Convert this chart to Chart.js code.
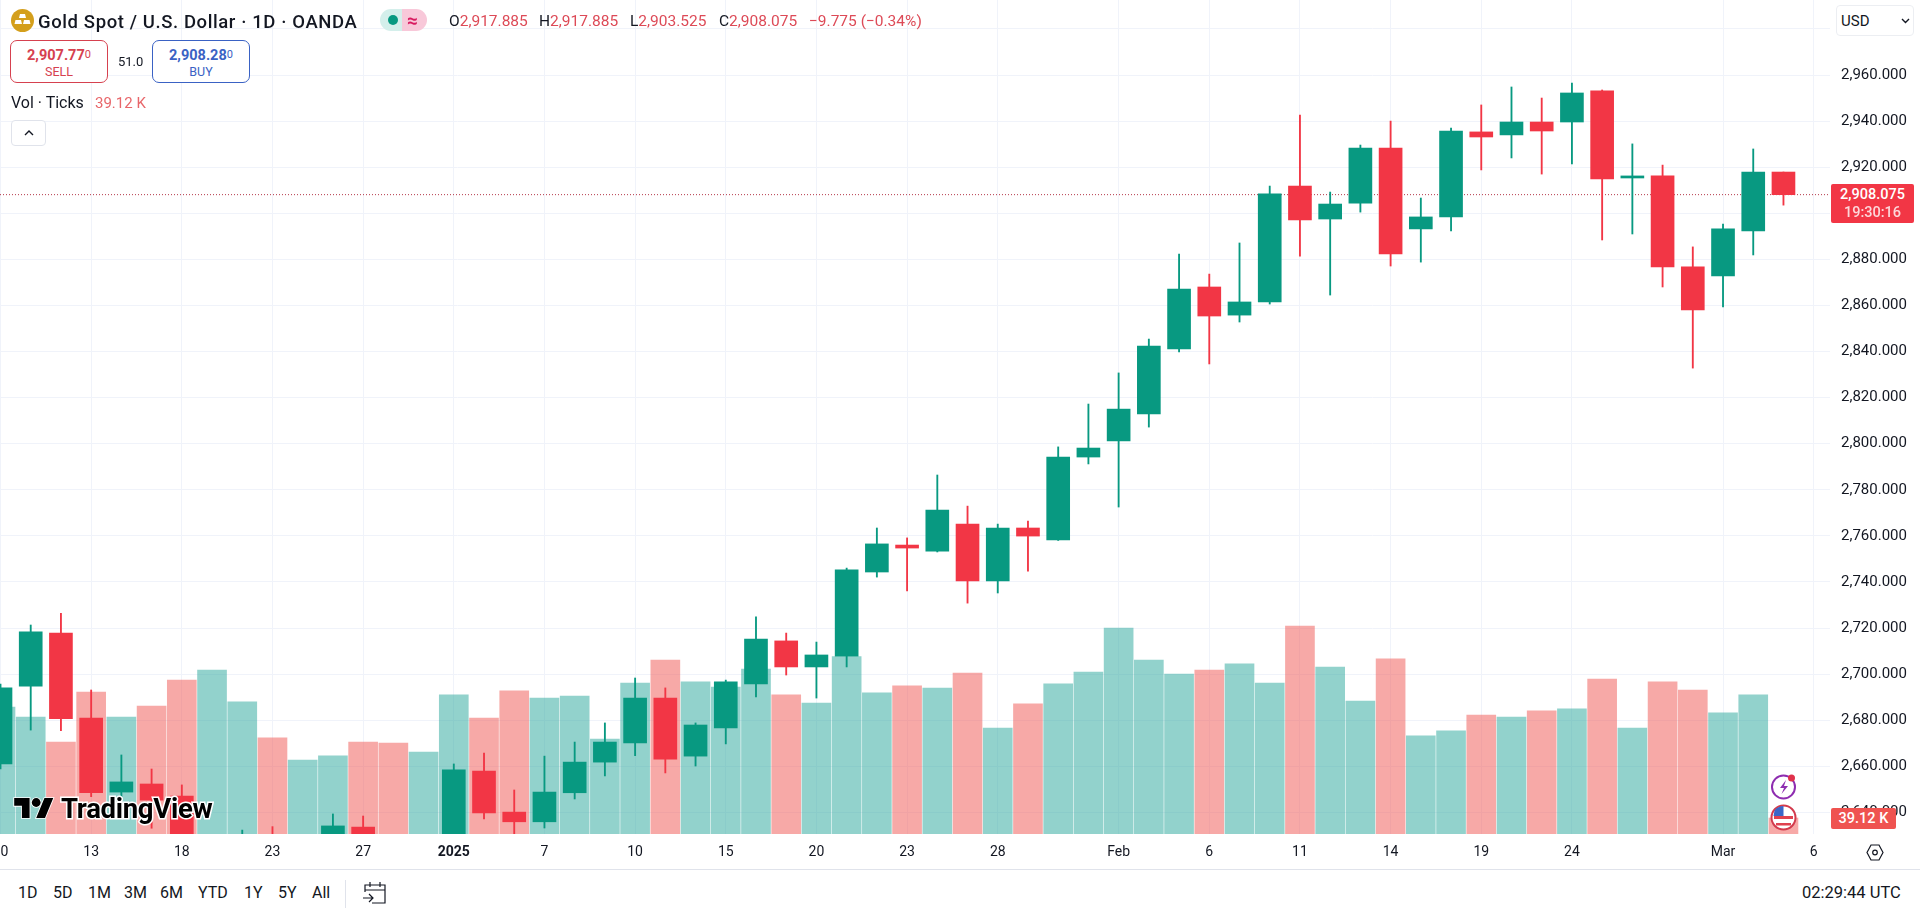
<!DOCTYPE html>
<html lang="en">
<head>
<meta charset="UTF-8" />
<title>Gold Spot / U.S. Dollar</title>
<script src="https://cdn.jsdelivr.net/npm/chart.js"></script>
<style>
  html, body { margin: 0; padding: 0; background: #fff; overflow: hidden; }
  body { width: 1920px; height: 912px; position: relative; font-family: Roboto, sans-serif; color: #131722; }
  #chart { position: absolute; left: 0; top: 0; }
  .abs { position: absolute; white-space: nowrap; line-height: 1; }
  .mid { transform: translateY(-50%); }
  .red { color: #dd4a57; }
  .tab { font-size: 16px; top: 893px; }
  .ohlc { font-size: 15.5px; top: 22px; }
  .trade { position: absolute; top: 40px; height: 43px; box-sizing: border-box; border: 1px solid; border-radius: 7px; text-align: center; background: #fff; }
  .trade b { display: block; font-size: 14.5px; font-weight: 700; margin-top: 6px; line-height: 15px; }
  .trade b small { font-size: 11px; font-weight: 400; vertical-align: 2px; }
  .trade span { display: block; font-size: 12.5px; margin-top: 2px; line-height: 14px; }
  #priceTag { position: absolute; left: 1831px; top: 184px; width: 83px; height: 39px; background: #f23645; border-radius: 2px; color: #fff; text-align: center; font-size: 14.5px; font-weight: 500; }
  #priceTag div { height: 18px; line-height: 18px; }
  #volTag { position: absolute; left: 1831px; top: 808px; width: 65px; height: 21px; line-height: 21px; background: #ef5350; border-radius: 2px; color: #fff; text-align: center; font-size: 14.5px; font-weight: 500; }
</style>
</head>
<body>
<canvas id="chart" width="1920" height="869"></canvas>

<svg class="abs" style="left:11px;top:9px" width="23" height="23" viewBox="0 0 23 23">
  <circle cx="11.5" cy="11.5" r="11.5" fill="#d49f1c"/>
  <path d="M9 5h5l1 4H8zM4.5 11h5.5l1 4H3.5zM13 11h5.5l1 4H12z" fill="#fff"/>
</svg>
<div class="abs mid" id="title" style="left:38px;top:22px;font-size:18.5px;font-weight:500;letter-spacing:.6px">Gold Spot / U.S. Dollar · 1D · OANDA</div>

<div class="abs" style="left:380px;top:9px;width:22px;height:22px;background:#d4efeb;border-radius:11px 0 0 11px"></div>
<div class="abs" style="left:402px;top:9px;width:25px;height:22px;background:#f8c8d9;border-radius:0 11px 11px 0"></div>
<div class="abs" style="left:388px;top:15px;width:10px;height:10px;background:#089981;border-radius:50%"></div>
<div class="abs mid" style="left:407px;top:20px;font-size:19px;font-weight:700;color:#d81b60">≈</div>

<div class="abs mid ohlc" style="left:449px">O<span class="red">2,917.885</span></div>
<div class="abs mid ohlc" style="left:539px">H<span class="red">2,917.885</span></div>
<div class="abs mid ohlc" style="left:630px">L<span class="red">2,903.525</span></div>
<div class="abs mid ohlc" style="left:719px">C<span class="red">2,908.075</span></div>
<div class="abs mid ohlc red" style="left:809px">−9.775 (−0.34%)</div>

<div class="trade" style="left:10px;width:98px;border-color:#d6414f;color:#d6414f"><b>2,907.77<small>0</small></b><span>SELL</span></div>
<div class="abs mid" style="left:118px;top:61px;font-size:13px">51.0</div>
<div class="trade" style="left:152px;width:98px;border-color:#3a62c4;color:#3a62c4"><b>2,908.28<small>0</small></b><span>BUY</span></div>

<div class="abs mid" style="left:11px;top:103px;font-size:16px">Vol · Ticks</div>
<div class="abs mid" style="left:95px;top:103px;font-size:15px;color:#e8666a">39.12 K</div>
<div class="abs" style="left:11px;top:120px;width:35px;height:26px;box-sizing:border-box;border:1px solid #e0e3eb;border-radius:4px;background:#fff">
  <svg style="position:absolute;left:12px;top:8px" width="10" height="8" viewBox="0 0 10 8"><path d="M1 6l4-4 4 4" fill="none" stroke="#131722" stroke-width="1.4"/></svg>
</div>

<div class="abs" style="left:1836px;top:5px;width:78px;height:31px;box-sizing:border-box;border:1px solid #eceef2;border-radius:4px;background:#fff"></div>
<div class="abs mid" style="left:1841px;top:21px;font-size:15px">USD</div>
<svg class="abs" style="left:1901px;top:18px" width="9" height="6" viewBox="0 0 9 6"><path d="M1 1l3.5 3.5L8 1" fill="none" stroke="#131722" stroke-width="1.4"/></svg>

<div id="priceTag"><div style="margin-top:2px">2,908.075</div><div style="opacity:.8">19:30:16</div></div>

<svg class="abs" style="left:14px;top:797px;overflow:visible" width="40" height="22" viewBox="0 0 36 20">
  <g transform="translate(0,-3)" stroke="#fff" stroke-width="1.6" paint-order="stroke" fill="#000">
    <path d="M14 22H7V11H0V4h14v18zM28 22h-8l7.5-18h8L28 22z"/><circle cx="20" cy="8" r="4"/>
  </g>
</svg>
<div class="abs mid" id="tvName" style="left:61px;top:809px;font-size:27.5px;font-weight:700;letter-spacing:-.3px;color:#000;paint-order:stroke;-webkit-text-stroke:3px #fff">TradingView</div>

<svg class="abs" style="left:1770px;top:773px" width="27" height="27" viewBox="0 0 27 27">
  <circle cx="13.5" cy="14" r="11.5" fill="#fff" stroke="#8e2db0" stroke-width="2"/>
  <path d="M16 7l-6 8h4l-2.5 6 6.5-8h-4z" fill="#8e2db0"/>
  <circle cx="21.5" cy="5" r="3.5" fill="#e0314b"/>
</svg>
<svg class="abs" style="left:1770px;top:804px" width="27" height="27" viewBox="0 0 27 27">
  <circle cx="13.5" cy="13.5" r="12" fill="#fff" stroke="#d33a4c" stroke-width="2"/>
  <path d="M4 12h19v3H4zM6 19h15v2.5H6z" fill="#e0414f"/>
  <path d="M4.5 6.5a11 11 0 0 1 9-4.5v10h-10z" fill="#3a66c8"/>
</svg>
<div id="volTag">39.12 K</div>

<svg class="abs" style="left:1866px;top:844px" width="18" height="17" viewBox="0 0 18 17">
  <path d="M5 1h8l4 7.5L13 16H5L1 8.5z" fill="none" stroke="#131722" stroke-width="1.2"/>
  <circle cx="9" cy="8.5" r="2.3" fill="none" stroke="#131722" stroke-width="1.2"/>
</svg>

<div class="abs" style="left:0;top:869px;width:1920px;height:1px;background:#e0e3eb"></div>
<div class="abs tab mid" style="left:18px">1D</div>
<div class="abs tab mid" style="left:53px">5D</div>
<div class="abs tab mid" style="left:88px">1M</div>
<div class="abs tab mid" style="left:124px">3M</div>
<div class="abs tab mid" style="left:160px">6M</div>
<div class="abs tab mid" style="left:198px">YTD</div>
<div class="abs tab mid" style="left:244px">1Y</div>
<div class="abs tab mid" style="left:278px">5Y</div>
<div class="abs tab mid" style="left:312px">All</div>
<div class="abs" style="left:345px;top:880px;width:1px;height:28px;background:#e0e3eb"></div>
<svg class="abs" style="left:362px;top:881px" width="25" height="24" viewBox="0 0 25 24">
  <path d="M3 11V4h20v18H10M3 9h20M8 1v5M18 1v5M1 17h10M7 13l4 4-4 4" fill="none" stroke="#131722" stroke-width="1.2"/>
</svg>
<div class="abs tab mid" style="left:1802px;font-size:16.5px">02:29:44 UTC</div>

<script>
  const opens = [2661.0, 2694.8, 2717.8, 2680.9, 2648.8, 2652.3, 2647.1, 2612.0, 2615.0, 2626.0,
    2620.0, 2624.0, 2633.6, 2626.0, 2618.0, 2625.0, 2657.9, 2640.1, 2635.9, 2648.5,
    2661.8, 2670.1, 2689.6, 2664.4, 2676.6, 2695.7, 2714.4, 2703.1, 2707.8, 2744.3,
    2756.0, 2753.4, 2765.1, 2740.4, 2763.4, 2758.2, 2794.2, 2801.2, 2812.9, 2841.1,
    2868.0, 2855.8, 2861.5, 2911.8, 2897.5, 2904.4, 2928.3, 2893.2, 2898.4, 2935.3,
    2934.0, 2939.6, 2939.6, 2953.1, 2915.3, 2916.2, 2876.7, 2872.8, 2892.3, 2917.885];
  const highs = [2695.7, 2721.3, 2726.4, 2693.1, 2664.9, 2658.8, 2651.9, 2628.0, 2632.3, 2633.8,
    2629.0, 2639.3, 2638.4, 2630.0, 2629.0, 2661.0, 2665.7, 2649.7, 2664.4, 2670.5,
    2678.8, 2698.3, 2694.0, 2678.8, 2697.4, 2724.8, 2717.8, 2713.9, 2746.0, 2763.4,
    2759.1, 2786.4, 2772.9, 2765.1, 2766.4, 2798.6, 2817.2, 2830.7, 2845.4, 2882.3,
    2873.6, 2887.1, 2911.8, 2942.6, 2909.2, 2929.6, 2940.0, 2906.6, 2937.0, 2947.0,
    2954.8, 2950.0, 2956.5, 2953.5, 2930.1, 2920.9, 2885.4, 2895.3, 2927.9, 2917.885];
  const lows = [2658.8, 2675.7, 2675.4, 2646.8, 2646.8, 2633.1, 2620.0, 2608.0, 2610.0, 2612.0,
    2616.0, 2620.0, 2618.0, 2612.0, 2612.0, 2620.0, 2637.1, 2629.8, 2633.2, 2645.8,
    2655.8, 2664.6, 2657.1, 2660.1, 2669.7, 2690.1, 2699.6, 2689.6, 2703.1, 2742.1,
    2736.1, 2753.0, 2730.8, 2735.2, 2744.7, 2758.0, 2791.2, 2772.5, 2807.2, 2839.8,
    2834.6, 2852.8, 2860.6, 2881.4, 2864.5, 2900.5, 2877.1, 2878.8, 2892.3, 2918.8,
    2924.0, 2917.0, 2921.4, 2888.4, 2891.0, 2868.0, 2832.8, 2859.3, 2881.9, 2903.525];
  const closes = [2694.0, 2718.3, 2680.6, 2648.5, 2653.2, 2645.3, 2625.0, 2622.0, 2625.0, 2618.0,
    2624.0, 2634.1, 2622.0, 2618.0, 2626.0, 2658.4, 2639.8, 2635.9, 2648.8, 2661.8,
    2670.5, 2689.6, 2663.1, 2677.9, 2696.6, 2715.2, 2703.1, 2708.3, 2745.2, 2756.5,
    2754.7, 2771.2, 2740.4, 2763.4, 2759.9, 2794.2, 2798.1, 2815.0, 2842.4, 2867.1,
    2855.4, 2861.5, 2908.4, 2897.1, 2904.0, 2928.3, 2882.3, 2898.4, 2935.7, 2933.1,
    2939.6, 2935.7, 2952.2, 2914.9, 2916.2, 2876.7, 2858.0, 2893.2, 2917.9, 2908.075];
  // ticks, in thousands
  const volumes = [310.5, 286, 225, 347, 286, 313, 376.5, 401, 323, 235,
    181, 191, 225, 222.5, 200.5, 340, 283.6, 350, 332.5, 337,
    232, 369, 425, 372, 359, 403, 340, 320, 433.5, 345,
    362, 357, 393.6, 259, 318, 367, 396, 503.7, 425, 391,
    401, 416, 369, 508.6, 408, 325, 428, 240, 252, 291,
    286, 301, 306, 379, 259, 372, 352, 296, 340, 39.12];

  const xTickIdx = [0, 3, 6, 9, 12, 15, 18, 21, 24, 27, 30, 33, 37, 40, 43, 46, 49, 52, 57, 60];
  const xTickLabels = ['10', '13', '18', '23', '27', '2025', '7', '10', '15', '20', '23', '28', 'Feb', '6', '11', '14', '19', '24', 'Mar', '6'];
  const yTicks = [2640, 2660, 2680, 2700, 2720, 2740, 2760, 2780, 2800, 2820, 2840, 2860, 2880, 2900, 2920, 2940, 2960, 2980];
  const lastPrice = 2908.075;

  const GREEN = '#089981', RED = '#F23645';
  const isUp = i => closes[i] >= opens[i];
  const candleColors = opens.map((o, i) => isUp(i) ? GREEN : RED);
  const volColors = opens.map((o, i) => isUp(i) ? 'rgba(38,166,154,0.5)' : 'rgba(239,83,80,0.5)');
  const xMin = -0.0165, xMax = 60.54;

  new Chart(document.getElementById('chart'), {
    type: 'bar',
    data: {
      datasets: [
        {
          label: 'Body', order: 1, barThickness: 23, backgroundColor: candleColors,
          data: opens.map((o, i) => ({ x: i, y: [o, closes[i]] }))
        },
        {
          label: 'Wick', order: 2, barThickness: 1.2, backgroundColor: candleColors,
          data: lows.map((l, i) => ({ x: i, y: [l, highs[i]] }))
        },
        {
          type: 'line', label: 'Last', order: 3, borderColor: '#b5384a', borderWidth: 1,
          borderDash: [1, 2], pointRadius: 0,
          data: [{ x: xMin, y: lastPrice }, { x: xMax, y: lastPrice }]
        },
        {
          label: 'Volume', order: 4, yAxisID: 'vol', barThickness: 29, backgroundColor: volColors,
          data: volumes.map((v, i) => ({ x: i, y: v }))
        }
      ]
    },
    options: {
      responsive: false,
      animation: false,
      grouped: false,
      layout: { padding: 0 },
      plugins: { legend: { display: false }, tooltip: { enabled: false } },
      scales: {
        x: {
          type: 'linear', min: xMin, max: xMax, offset: false,
          border: { display: false },
          grid: { color: '#f0f3fa', drawTicks: false, offset: false },
          afterBuildTicks(scale) { scale.ticks = xTickIdx.map(v => ({ value: v })); },
          afterFit(scale) { scale.height = 35; scale.paddingLeft = 0; scale.paddingRight = 0; },
          ticks: {
            autoSkip: false, maxRotation: 0, padding: 10, color: '#131722',
            font: ctx => ({ family: 'Roboto', size: 14, weight: xTickLabels[ctx.index] === '2025' ? 'bold' : 'normal' }),
            callback: (v, i) => xTickLabels[i]
          }
        },
        y: {
          position: 'right', min: 2630.6, max: 2992.55,
          border: { display: false },
          grid: { color: '#f0f3fa', drawTicks: false },
          afterBuildTicks(scale) { scale.ticks = yTicks.map(v => ({ value: v })); },
          afterFit(scale) { scale.width = 90; scale.paddingTop = 0; scale.paddingBottom = 0; },
          ticks: {
            autoSkip: false, padding: 11, color: '#131722', font: { family: 'Roboto', size: 15 },
            callback: v => v.toLocaleString('en-US', { minimumFractionDigits: 3 })
          }
        },
        vol: { display: false, min: 0, max: 2039 }
      }
    }
  });
</script>
</body>
</html>
